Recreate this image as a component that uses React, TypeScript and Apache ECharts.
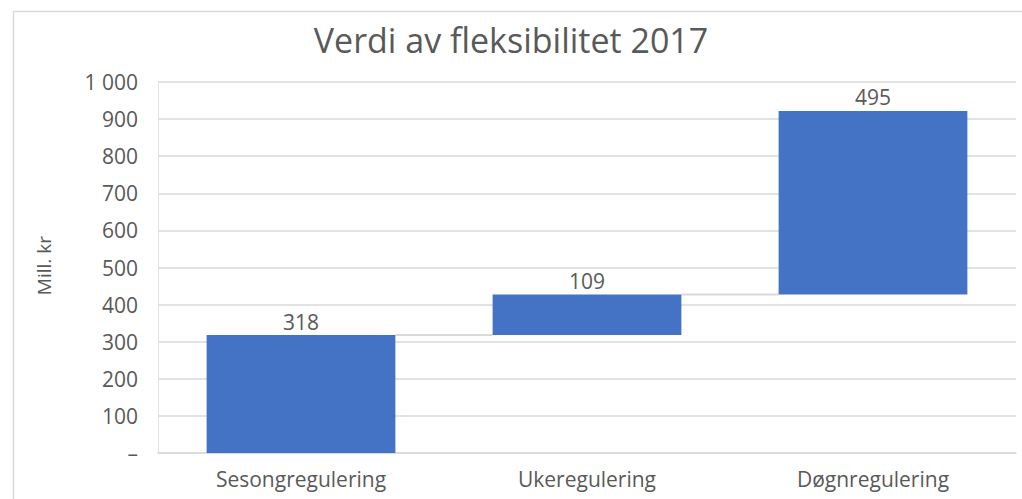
import React, { useEffect, useRef } from "react";
import * as echarts from "echarts";

const title = "Verdi av fleksibilitet 2017";
const categories = ["Sesongregulering", "Ukeregulering", "Døgnregulering"];
const values = [318, 109, 495];
const yAxisName = "Mill. kr";
const yTicks = { min: 0, max: 1000, interval: 100 };

const FONT = "'Open Sans', 'Noto Sans', sans-serif";
const GREY = "#595959";

export default function App() {
  const ref = useRef<HTMLDivElement>(null);
  useEffect(() => {
    if (!ref.current) return;
    const chart = echarts.init(ref.current, undefined, { renderer: "svg" });
    const bases: number[] = [];
    let acc = 0;
    values.forEach((v) => {
      bases.push(acc);
      acc += v;
    });
    const connectors = values.slice(0, -1).map((v, i) => [i, bases[i] + v]);
    chart.setOption({
      animation: false,
      backgroundColor: "#ffffff",
      textStyle: { fontFamily: FONT },
      title: {
        text: title,
        left: "center",
        top: 18,
        textStyle: { fontFamily: FONT, fontSize: 34, fontWeight: "normal", color: GREY },
      },
      graphic: [
        {
          type: "rect",
          left: 11,
          top: 9,
          shape: { width: 1100, height: 600 },
          style: { fill: "none", stroke: "#d9d9d9", lineWidth: 1.5 },
          z: -1,
        },
        {
          type: "text",
          left: 34,
          top: 236,
          rotation: Math.PI / 2,
          style: { text: yAxisName, fill: GREY, fontSize: 19, fontFamily: FONT },
        },
      ],
      grid: { left: 158, right: 6, top: 82, bottom: 46, containLabel: false },
      xAxis: {
        type: "category",
        data: categories,
        axisTick: { show: false },
        axisLine: { lineStyle: { color: "#d9d9d9", width: 1.5 } },
        axisLabel: { color: GREY, fontSize: 21, margin: 15, fontFamily: FONT },
      },
      yAxis: {
        type: "value",
        min: yTicks.min,
        max: yTicks.max,
        interval: yTicks.interval,
        axisLine: { show: true, lineStyle: { color: "#e3e3e3", width: 1 } },
        axisTick: { show: false },
        splitLine: { lineStyle: { color: "#d9d9d9", width: 1.5 } },
        axisLabel: {
          color: GREY,
          fontSize: 21,
          margin: 20,
          fontFamily: FONT,
          formatter: (v: number) =>
            v === 0 ? "–" : v >= 1000 ? `${Math.floor(v / 1000)} ${String(v % 1000).padStart(3, "0")}` : String(v),
        },
      },
      series: [
        {
          type: "bar",
          stack: "wf",
          data: bases,
          itemStyle: { color: "transparent" },
          barCategoryGap: "34%",
          silent: true,
        },
        {
          type: "bar",
          stack: "wf",
          data: values,
          itemStyle: { color: "#4472c4" },
          barCategoryGap: "34%",
          label: { show: true, position: "top", color: GREY, fontSize: 21, distance: 3, fontFamily: FONT },
        },
        {
          type: "custom",
          data: connectors,
          z: 1,
          renderItem: (params: any, api: any) => {
            const i = api.value(0);
            const v = api.value(1);
            const p1 = api.coord([i, v]);
            const p2 = api.coord([i + 1, v]);
            const hw = api.size([1, 0])[0] * 0.33;
            return {
              type: "line",
              shape: { x1: p1[0] + hw, y1: p1[1], x2: p2[0] - hw, y2: p2[1] },
              style: { stroke: "#d9d9d9", lineWidth: 2 },
            };
          },
        },
      ],
    });
    return () => chart.dispose();
  }, []);
  return (
    <div
      ref={ref}
      style={{ position: "fixed", left: 0, top: 0, width: 1022, height: 499 }}
    />
  );
}
